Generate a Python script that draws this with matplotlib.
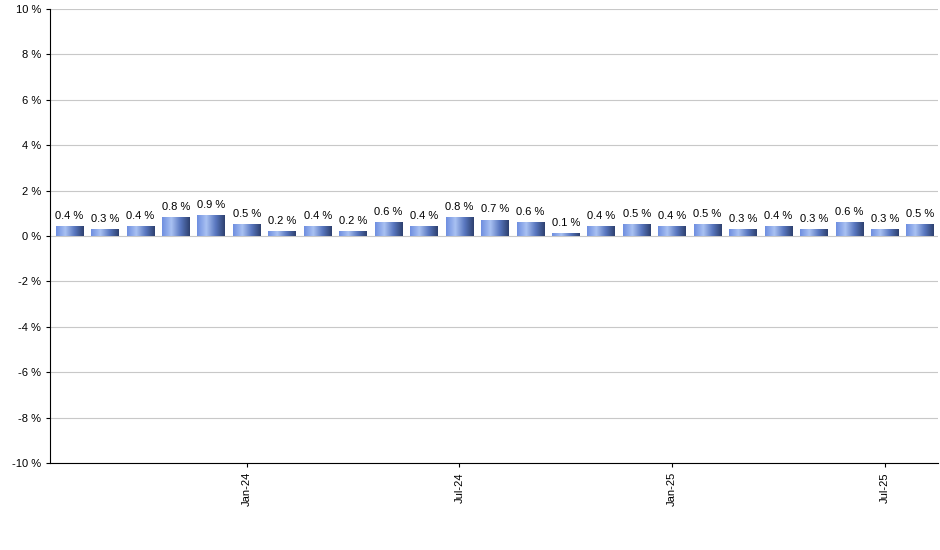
import matplotlib
matplotlib.use("Agg")
import matplotlib.pyplot as plt
import numpy as np
from matplotlib.colors import LinearSegmentedColormap

months = ['Aug-23', 'Sep-23', 'Oct-23', 'Nov-23', 'Dec-23', 'Jan-24', 'Feb-24', 'Mar-24',
          'Apr-24', 'May-24', 'Jun-24', 'Jul-24', 'Aug-24', 'Sep-24', 'Oct-24', 'Nov-24',
          'Dec-24', 'Jan-25', 'Feb-25', 'Mar-25', 'Apr-25', 'May-25', 'Jun-25', 'Jul-25', 'Aug-25']
values = [0.4, 0.3, 0.4, 0.8, 0.9, 0.5, 0.2, 0.4, 0.2, 0.6, 0.4, 0.8, 0.7, 0.6, 0.1, 0.4,
          0.5, 0.4, 0.5, 0.3, 0.4, 0.3, 0.6, 0.3, 0.5]
shown_ticks = ['Jan-24', 'Jul-24', 'Jan-25', 'Jul-25']

fig = plt.figure(figsize=(9.4, 5.5), dpi=100)
ax = fig.add_axes([50 / 940, 1 - 463 / 550, 888 / 940, 454 / 550])

cmap = LinearSegmentedColormap.from_list('bar', ['#6f8fe0', '#a9c1f2', '#5a78c0', '#2e4170'])
grad = np.linspace(0, 1, 64).reshape(1, -1)
x = np.arange(len(values))
width = 0.78
for xi, v in zip(x, values):
    ax.imshow(grad, cmap=cmap, aspect='auto', extent=[xi - width / 2, xi + width / 2, 0, v],
              zorder=3)
    ax.text(xi, v + 0.25, f'{v:.1f} %', ha='center', va='bottom', fontsize=8,
            family='Liberation Sans', zorder=4)

ax.set_xlim(-0.55, len(values) - 0.5)
ax.set_ylim(-10, 10)
ax.set_yticks(np.arange(-10, 11, 2))
ax.set_yticklabels([f'{t} %' for t in range(-10, 11, 2)], fontsize=8, family='Liberation Sans')
ax.yaxis.grid(True, color='#c8c8c8', linewidth=0.8, zorder=0)
ax.set_axisbelow(True)
tick_pos = [months.index(m) for m in shown_ticks]
ax.set_xticks(tick_pos)
ax.set_xticklabels(shown_ticks, rotation=90, fontsize=8, family='Liberation Sans')
for s in ['top', 'right']:
    ax.spines[s].set_visible(False)
ax.tick_params(length=3)

fig.savefig('out.png', dpi=100)
